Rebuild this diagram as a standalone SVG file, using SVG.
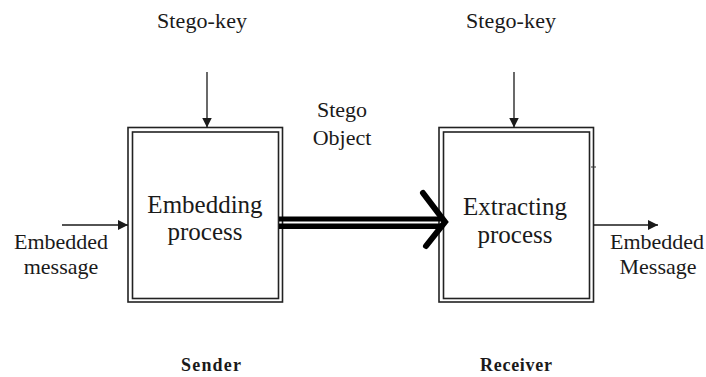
<svg xmlns="http://www.w3.org/2000/svg" width="706" height="377" viewBox="0 0 706 377">
  <style>
    text { font-family: "Liberation Serif", "Times New Roman", serif; fill: #1a1a1a; }
    .lbl { font-size: 22px; }
    .box-t { font-size: 25px; text-anchor: middle; }
    .bold { font-size: 18px; font-weight: bold; }
    .outer, .inner { fill: none; stroke: #222; stroke-width: 1.6; }
    .thin { stroke: #1a1a1a; stroke-width: 1.3; fill: none; }
    .thick { stroke: #000; fill: none; }
  </style>
  <defs>
    <marker id="ah" markerUnits="userSpaceOnUse" markerWidth="11" markerHeight="10" refX="10" refY="5" orient="auto">
      <path d="M0,0 L10,5 L0,10 Z" fill="#1a1a1a"/>
    </marker>
  </defs>
  <rect width="706" height="377" fill="#ffffff"/>

  <g id="embedding">
    <rect class="outer" x="128" y="127.5" width="154.5" height="174.5"/>
    <rect class="inner" x="132.5" y="132" width="146" height="166.5"/>
    <text class="box-t" x="205" y="213">Embedding</text>
    <text class="box-t" x="205" y="240">process</text>
  </g>

  <g id="extracting">
    <rect class="outer" x="439" y="127.5" width="154.5" height="174.5"/>
    <rect class="inner" x="443.5" y="132" width="146" height="166.5"/>
    <text class="box-t" x="515" y="215">Extracting</text>
    <text class="box-t" x="515" y="243">process</text>
    <line x1="591" y1="167" x2="596" y2="167" stroke="#333" stroke-width="1"/>
  </g>

  <g id="labels">
    <text class="lbl" x="157" y="28" textLength="90">Stego-key</text>
    <text class="lbl" x="466" y="28" textLength="90">Stego-key</text>
    <text class="lbl" x="342" y="117" text-anchor="middle">Stego</text>
    <text class="lbl" x="342" y="145" text-anchor="middle">Object</text>
    <text class="lbl" x="61" y="249" text-anchor="middle">Embedded</text>
    <text class="lbl" x="61" y="274" text-anchor="middle">message</text>
    <text class="lbl" x="657" y="249" text-anchor="middle">Embedded</text>
    <text class="lbl" x="658" y="274" text-anchor="middle">Message</text>
    <text class="bold" x="181" y="371" textLength="60">Sender</text>
    <text class="bold" x="480" y="371" textLength="72">Receiver</text>
  </g>

  <g id="connectors">
    <line class="thin" x1="207" y1="72" x2="207" y2="127.5" marker-end="url(#ah)"/>
    <line class="thin" x1="514" y1="72" x2="514" y2="127.5" marker-end="url(#ah)"/>
    <line class="thin" x1="62" y1="225" x2="128" y2="225" marker-end="url(#ah)"/>
    <line class="thin" x1="593.5" y1="225" x2="658" y2="225" marker-end="url(#ah)"/>
    <line class="thick" x1="279" y1="219" x2="444" y2="219" stroke-width="5"/>
    <line class="thick" x1="279" y1="226.3" x2="444" y2="226.3" stroke-width="5.5"/>
    <polyline class="thick" points="423,193 445,222 426,246" stroke-width="6" stroke-linecap="round" stroke-linejoin="miter"/>
  </g>
</svg>
